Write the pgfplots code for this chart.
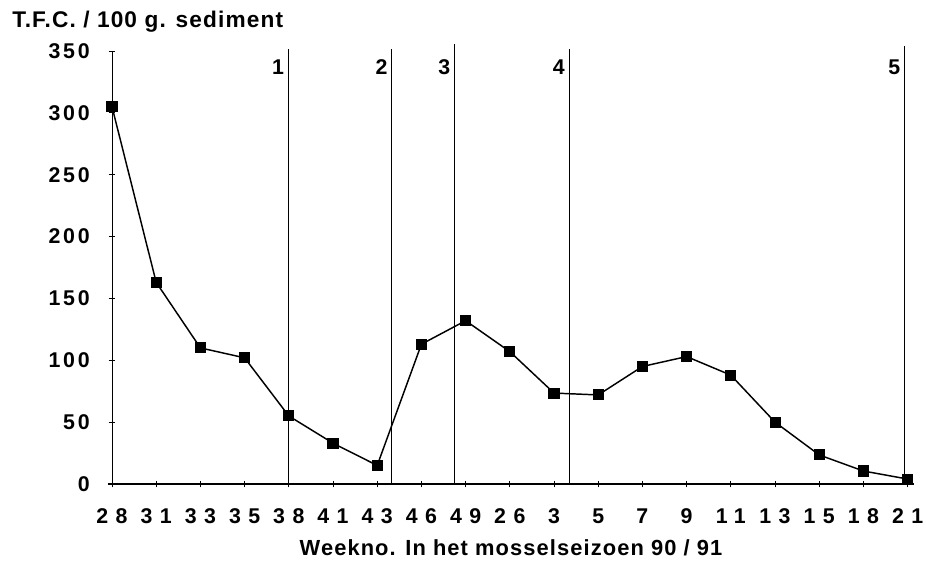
\documentclass[border=0pt]{standalone}
\usepackage{fontspec}
\setmainfont{Liberation Sans}
\newfontfamily\labfont{Liberation Sans}[LetterSpace=5]
\newfontfamily\ytickfont{Liberation Sans}[LetterSpace=13]
\newfontfamily\xtickfont{Liberation Sans}[LetterSpace=35]
\usepackage{pgfplots}
\pgfplotsset{compat=1.18}
\begin{document}
\begin{tikzpicture}
\path[use as bounding box] (0,0) rectangle (694.5pt,-426pt);
\begin{axis}[
  at={(84pt,-363pt)}, anchor=south west,
  scale only axis, width=601.7pt, height=324.75pt,
  xmin=0, xmax=18.15, ymin=0, ymax=350,
  axis x line=bottom, axis y line=left,
  axis line style={-},
  x axis line style={line width=1.4pt},
  y axis line style={line width=0.6pt},
  clip=false,
  xtick={0,...,18},
  xticklabels={28,31,33,35,38,41,43,46,49,26,3,5,7,9,11,13,15,18,21},
  ytick={0,50,...,350},
  tick align=center,
  major tick length=5pt,
  tick style={black, line width=0.6pt},
  yticklabel style={font=\ytickfont\bfseries\fontsize{16}{17}\selectfont, /pgf/number format/assume math mode=true, inner sep=0pt, xshift=-14pt},
  xticklabel style={font=\xtickfont\bfseries\fontsize{16}{17}\selectfont, inner sep=0pt, yshift=-16pt},
]
\addplot[black, line width=1.1pt, mark=square*, mark size=3.6pt, mark options={solid}] coordinates {
(0,305) (1,163) (2,110) (3,102) (4,55) (5,33) (6,15) (7,113) (8,132) (9,107)
(10,73.5) (11,72) (12,95) (13,103) (14,88) (15,50) (16,23.5) (17,10.5) (18,4)
};
\addplot[black, line width=0.7pt] coordinates {(3.99,0) (3.99,352)};
\addplot[black, line width=0.7pt] coordinates {(6.33,0) (6.33,352)};
\addplot[black, line width=0.7pt] coordinates {(7.75,0) (7.75,356)};
\addplot[black, line width=0.7pt] coordinates {(10.34,0) (10.34,352)};
\addplot[black, line width=0.7pt] coordinates {(17.93,0) (17.93,354)};
\draw[line width=1.4pt] (axis cs:-0.1,0) -- (axis cs:18.15,0);
\node[anchor=east, inner sep=3pt, font=\labfont\bfseries\fontsize{16}{17}\selectfont] at (axis cs:3.99,337) {1};
\node[anchor=east, inner sep=3pt, font=\labfont\bfseries\fontsize{16}{17}\selectfont] at (axis cs:6.33,337) {2};
\node[anchor=east, inner sep=3pt, font=\labfont\bfseries\fontsize{16}{17}\selectfont] at (axis cs:7.75,337) {3};
\node[anchor=east, inner sep=3pt, font=\labfont\bfseries\fontsize{16}{17}\selectfont] at (axis cs:10.34,337) {4};
\node[anchor=east, inner sep=3pt, font=\labfont\bfseries\fontsize{16}{17}\selectfont] at (axis cs:17.93,337) {5};
\end{axis}
\node[anchor=west, inner sep=0pt, font=\labfont\bfseries\fontsize{17}{18}\selectfont] at (9pt,-16.5pt) {T.F.C. / 100 g. sediment};
\node[inner sep=0pt, font=\labfont\bfseries\fontsize{16.4}{17}\selectfont] at (383.25pt,-411pt) {Weekno. In het mosselseizoen 90 / 91};
\end{tikzpicture}
\end{document}
